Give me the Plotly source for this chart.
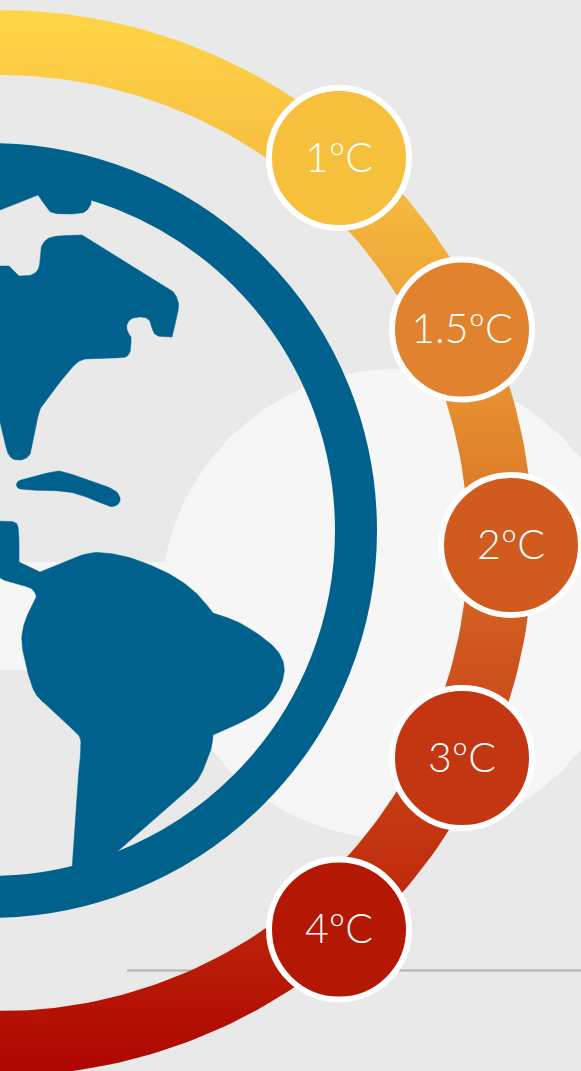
import math
import plotly.graph_objects as go

# ---- data ----
LABELS = ["1ºC", "1.5ºC", "2ºC", "3ºC", "4ºC"]
BADGE_X = [339, 462, 511, 462, 339]
BADGE_Y = [158, 329.5, 545, 758, 929.5]
BADGE_COLORS = ["#f6bf3c", "#e1822e", "#d15a1f", "#c43512", "#b51705"]
TEXT_DY = 3.5

RING_CENTER = (0, 543)
RING_OUTER = 533
RING_INNER = 468
RING_STOPS = [(0.0, "#ffd648"), (0.18, "#f5b83e"), (0.39, "#e38a2e"), (0.60, "#cf561f"), (0.80, "#c2300f"), (1.0, "#ae0500")]

GLOBE_BLUE = "#00628c"
BG = "#e9e9e9"
LIGHT = "#f6f6f6"

ICE_X = [-5, 0, 38, 47, 52, 80, 87, 91, 91, -5]
ICE_Y = [212, 210, 195, 208, 214, 214, 211, 204, 190, 180]

NORTH_X = [-5, 9, 19, 30, 37, 40, 40, 44, 52, 82, 167, 175, 179, 178, 172, 160, 154, 152, 151, 146, 135, 129, 126, 128, 131, 131, 128, 123, 90, 80, 72, 46, 40, 37, 32, 30, 24, 14, 9, 6, 0, -5]
NORTH_Y = [266, 266, 276, 276, 272, 265, 250, 241, 236, 235, 287, 293, 303, 312, 337, 337, 334, 328, 322, 317, 317, 320, 326, 333, 337, 350, 356, 358, 358, 360, 367, 400, 408, 420, 450, 455, 460, 460, 456, 448, 420, 400]

CUBA_X = [17, 20, 55, 62, 115, 121, 119, 113, 108, 72, 20, 16]
CUBA_Y = [482, 480, 471, 471, 489, 498, 504, 507, 506, 491, 490, 486]

SOUTH_X = [-5, 14, 19, 19, 40, 88, 110, 133, 167, 190, 203, 213, 240, 267, 280, 285, 283, 278, 267, 247, 213, 212, 208, 200, 190, 118, 110, 72, 77, 82, 77, 70, 50, 40, 33, 27, 21, 23, 28, 37, 35, 30, 7, -5]
SOUTH_Y = [521, 521, 526, 562, 572, 552, 553, 558, 572, 587, 600, 613, 622, 640, 653, 667, 680, 692, 707, 720, 735, 747, 757, 778, 788, 851, 870, 870, 790, 740, 733, 727, 707, 700, 690, 670, 643, 627, 613, 598, 592, 587, 582, 575]

SHARP = {(-5, 212), (38, 195), (91, 204), (91, 190), (-5, 180), (-5, 266), (9, 266), (19, 276), (82, 235),
         (172, 337), (131, 337), (-5, 400), (-5, 521), (19, 562), (40, 572), (213, 613), (213, 735),
         (118, 851), (110, 870), (72, 870), (-5, 575)}
MAX_CUT = 9.0


def arc(center, radius, a0, a1, n=180):
    cx, cy = center
    return [(cx + radius * math.cos(math.radians(a0 + (a1 - a0) * i / n)),
             cy + radius * math.sin(math.radians(a0 + (a1 - a0) * i / n))) for i in range(n + 1)]


def round_outline(xs, ys, passes=3):
    """Corner-cut an outline, keeping the vertices listed in SHARP as hard corners."""
    pts = [(x, y, (x, y) in SHARP) for x, y in zip(xs, ys)]
    cut = MAX_CUT
    for _ in range(passes):
        out = []
        n = len(pts)
        for i in range(n):
            prev, cur, nxt = pts[i - 1], pts[i], pts[(i + 1) % n]
            if cur[2]:
                out.append(cur)
                continue
            for other in (prev, nxt):
                L = math.hypot(other[0] - cur[0], other[1] - cur[1]) or 1.0
                t = min(0.25, cut / L)
                out.append((cur[0] + (other[0] - cur[0]) * t, cur[1] + (other[1] - cur[1]) * t, False))
        pts = out
        cut *= 0.5
    return [p[0] for p in pts], [p[1] for p in pts]


ring_pts = arc(RING_CENTER, RING_OUTER, -95, 95) + arc(RING_CENTER, RING_INNER, 95, -95)

fig = go.Figure()

fig.add_trace(go.Scatter(
    x=[p[0] for p in ring_pts], y=[p[1] for p in ring_pts], mode="lines", fill="toself",
    line=dict(width=0, color="rgba(0,0,0,0)"),
    fillgradient=dict(type="vertical", colorscale=[[s, c] for s, c in RING_STOPS],
                      start=RING_CENTER[1] - RING_OUTER, stop=RING_CENTER[1] + RING_OUTER),
    hoverinfo="skip", showlegend=False))

for xs, ys, name in [(ICE_X, ICE_Y, "Greenland"), (NORTH_X, NORTH_Y, "North America"),
                     (CUBA_X, CUBA_Y, "Caribbean"), (SOUTH_X, SOUTH_Y, "South America")]:
    sx, sy = round_outline(xs, ys)
    fig.add_trace(go.Scatter(x=sx, y=sy, mode="lines", fill="toself", name=name,
                             fillcolor=GLOBE_BLUE, line=dict(width=0.5, color=GLOBE_BLUE),
                             hoverinfo="skip", showlegend=False))

fig.add_trace(go.Scatter(
    x=BADGE_X, y=BADGE_Y, mode="markers",
    marker=dict(size=140, color=BADGE_COLORS, line=dict(color="white", width=6)),
    hoverinfo="skip", showlegend=False, cliponaxis=False))

fig.add_trace(go.Scatter(
    x=BADGE_X, y=[y + TEXT_DY for y in BADGE_Y], mode="text", text=LABELS, textposition="middle center",
    textfont=dict(family="Lato", size=41, color="white", weight=300),
    hoverinfo="skip", showlegend=False, cliponaxis=False))

shapes = [
    dict(type="rect", x0=-5, x1=200, y0=562, y1=670, fillcolor=LIGHT, line_width=0, layer="below"),
    dict(type="circle", x0=396 - 235, x1=396 + 235, y0=604 - 235, y1=604 + 235, fillcolor=LIGHT, line_width=0, layer="below"),
    dict(type="line", x0=127, x1=590, y0=970.5, y1=970.5, line=dict(color="#b0b0b0", width=2), layer="below"),
    dict(type="circle", x0=-10.5 - 366.5, x1=-10.5 + 366.5, y0=530.5 - 366.5, y1=530.5 + 366.5,
         line=dict(color=GLOBE_BLUE, width=42), fillcolor="rgba(0,0,0,0)", layer="below"),
]

fig.update_layout(
    width=581, height=1071, margin=dict(l=0, r=0, t=0, b=0),
    paper_bgcolor=BG, plot_bgcolor=BG, shapes=shapes, showlegend=False,
    xaxis=dict(range=[0, 581], visible=False, fixedrange=True),
    yaxis=dict(range=[1071, 0], visible=False, fixedrange=True),
)

fig.write_html("out.html", config={"displayModeBar": False},
               post_script="document.body.style.margin='0';document.body.style.background='#e9e9e9';")
